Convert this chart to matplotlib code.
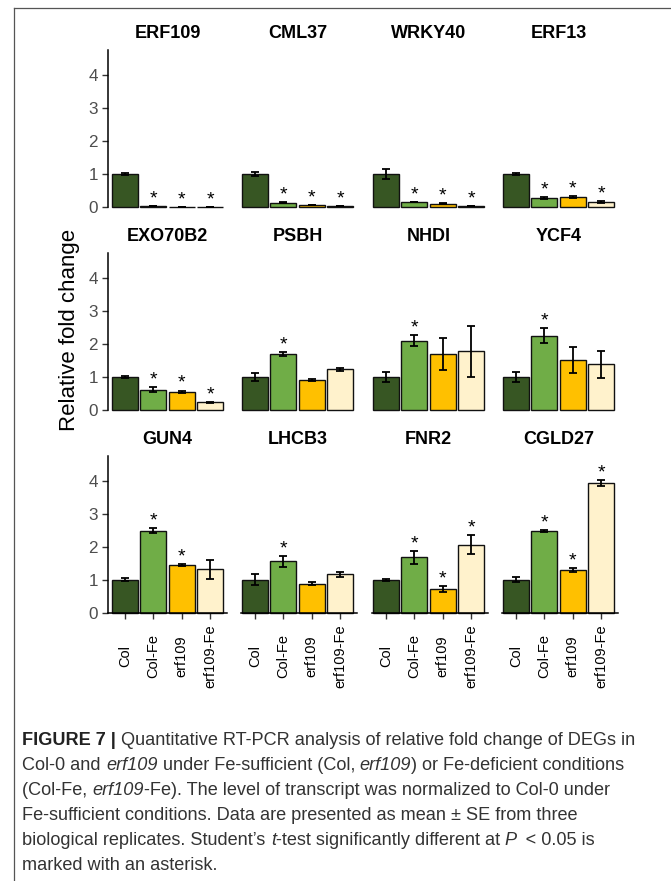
import matplotlib
matplotlib.use('Agg')
import matplotlib.pyplot as plt
from matplotlib.lines import Line2D
from matplotlib.transforms import IdentityTransform

plt.rcParams['font.family'] = ['Liberation Sans', 'DejaVu Sans']

genes = ['ERF109', 'CML37', 'WRKY40', 'ERF13',
         'EXO70B2', 'PSBH', 'NHDI', 'YCF4',
         'GUN4', 'LHCB3', 'FNR2', 'CGLD27']
conditions = ['Col', 'Col-Fe', 'erf109', 'erf109-Fe']

# mean relative fold change per gene, order of conditions
fold_change = [
    [1.00, 0.02, 0.01, 0.01],
    [1.00, 0.13, 0.06, 0.02],
    [1.00, 0.15, 0.10, 0.03],
    [1.00, 0.27, 0.29, 0.15],
    [1.00, 0.62, 0.56, 0.23],
    [1.00, 1.69, 0.91, 1.23],
    [1.00, 2.10, 1.69, 1.78],
    [1.00, 2.25, 1.52, 1.38],
    [1.00, 2.49, 1.45, 1.31],
    [1.00, 1.56, 0.88, 1.16],
    [1.00, 1.68, 0.72, 2.06],
    [1.00, 2.48, 1.28, 3.93],
]
fold_se = [
    [0.02, 0.00, 0.00, 0.00],
    [0.06, 0.02, 0.01, 0.00],
    [0.14, 0.01, 0.02, 0.00],
    [0.03, 0.02, 0.03, 0.03],
    [0.03, 0.08, 0.03, 0.02],
    [0.12, 0.06, 0.02, 0.04],
    [0.16, 0.17, 0.48, 0.78],
    [0.16, 0.22, 0.39, 0.40],
    [0.05, 0.07, 0.02, 0.29],
    [0.16, 0.17, 0.05, 0.07],
    [0.03, 0.20, 0.10, 0.29],
    [0.07, 0.02, 0.06, 0.10],
]
significant = [
    [False, True, True, True],
    [False, True, True, True],
    [False, True, True, True],
    [False, True, True, True],
    [False, True, True, True],
    [False, True, False, False],
    [False, True, False, False],
    [False, True, False, False],
    [False, True, True, False],
    [False, True, False, False],
    [False, True, True, True],
    [False, True, True, True],
]
bar_colors = ['#375623', '#70AD47', '#FFC000', '#FFF2CC']

W, H = 671, 881
fig = plt.figure(figsize=(W / 100, H / 100), dpi=100)


def px_axes(left, top, width, height):
    return fig.add_axes([left / W, 1 - (top + height) / H, width / W, height / H])


col_lefts = [107.7, 237.7, 368.7, 498.7]
row_bottoms = [207, 410, 612.7]
ax_w, ax_h = 119.7, 156.75
x = list(range(1, 5))

for i, gene in enumerate(genes):
    r, c = divmod(i, 4)
    ax = px_axes(col_lefts[c], row_bottoms[r] - ax_h, ax_w, ax_h)
    ax.bar(x, fold_change[i], width=0.9, color=bar_colors, edgecolor='#111111',
           linewidth=1.0, clip_on=False, zorder=2)
    ax.errorbar(x, fold_change[i], yerr=fold_se[i], fmt='none', ecolor='black',
                elinewidth=1.3, capsize=2.6, capthick=1.3, clip_on=False, zorder=3)
    for xi, m, s, sig in zip(x, fold_change[i], fold_se[i], significant[i]):
        if sig:
            ax.text(xi, m + s + 0.08, '*', ha='center', va='baseline',
                    fontsize=14, color='black', clip_on=False)
    ax.set_xlim(0.4, 4.6)
    ax.set_ylim(0, 4.75)
    ax.annotate(gene, (0.5, 1), xycoords='axes fraction', xytext=(0, 16.5 * 0.72),
                textcoords='offset points', ha='center', va='center',
                fontsize=13, fontweight='bold')
    for s in ['top', 'right']:
        ax.spines[s].set_visible(False)
    ax.patch.set_visible(False)
    if c == 0:
        ax.spines['left'].set_linewidth(1.1)
        ax.set_yticks(range(5))
        ax.tick_params(axis='y', length=4, width=1.0, color='#333333',
                       labelsize=12.3, labelcolor='#4D4D4D', pad=3)
    else:
        ax.spines['left'].set_visible(False)
        ax.set_yticks([])
    if r == 2:
        ax.spines['bottom'].set_linewidth(1.1)
        if c > 0:
            ax.spines['bottom'].set_bounds(0.53, 4.58)
        ax.set_xticks(x)
        ax.set_xticklabels(conditions, rotation=90, va='center')
        ax.tick_params(axis='x', length=4, width=1.0, color='#333333',
                       labelsize=10.5, labelcolor='black', pad=27)
    else:
        ax.spines['bottom'].set_visible(False)
        ax.set_xticks([])

fig.text(70 / W, 1 - 330 / H, 'Relative fold change', rotation=90,
         ha='center', va='center', fontsize=16, color='black')

# frame lines of the figure panel
fig.add_artist(Line2D([14 / W, 14 / W], [0, 1 - 8 / H], color='#555555', lw=0.9))
fig.add_artist(Line2D([14 / W, 1], [1 - 8 / H, 1 - 8 / H], color='#555555', lw=0.9))

caption = [
    [('FIGURE 7 |', 'bold'), (' Quantitative RT-PCR analysis of relative fold change of DEGs in', 'normal')],
    [('Col-0 and ', 'normal'), ('erf109', 'italic'), (' under Fe-sufficient (Col, ', 'normal'),
     ('erf109', 'italic'), (') or Fe-deficient conditions', 'normal')],
    [('(Col-Fe, ', 'normal'), ('erf109', 'italic'), ('-Fe). The level of transcript was normalized to Col-0 under', 'normal')],
    [('Fe-sufficient conditions. Data are presented as mean \u00b1 SE from three', 'normal')],
    [('biological replicates. Student\u2019s ', 'normal'), ('t', 'italic'),
     ('-test significantly different at ', 'normal'), ('P', 'italic'), (' \u2009< 0.05 is', 'normal')],
    [('marked with an asterisk.', 'normal')],
]

renderer = fig.canvas.get_renderer()
for k, parts in enumerate(caption):
    xp = 22.5
    yp = H - (745 + 25 * k)
    for txt, style in parts:
        kw = dict(fontsize=13.1, color='#333333')
        if style == 'bold':
            kw['fontweight'] = 'bold'
            kw['color'] = '#222222'
        elif style == 'italic':
            kw['fontstyle'] = 'italic'
        t = fig.text(xp, yp, txt, transform=IdentityTransform(), ha='left', va='baseline', **kw)
        xp = t.get_window_extent(renderer).x1

fig.savefig('out.png', dpi=100)
